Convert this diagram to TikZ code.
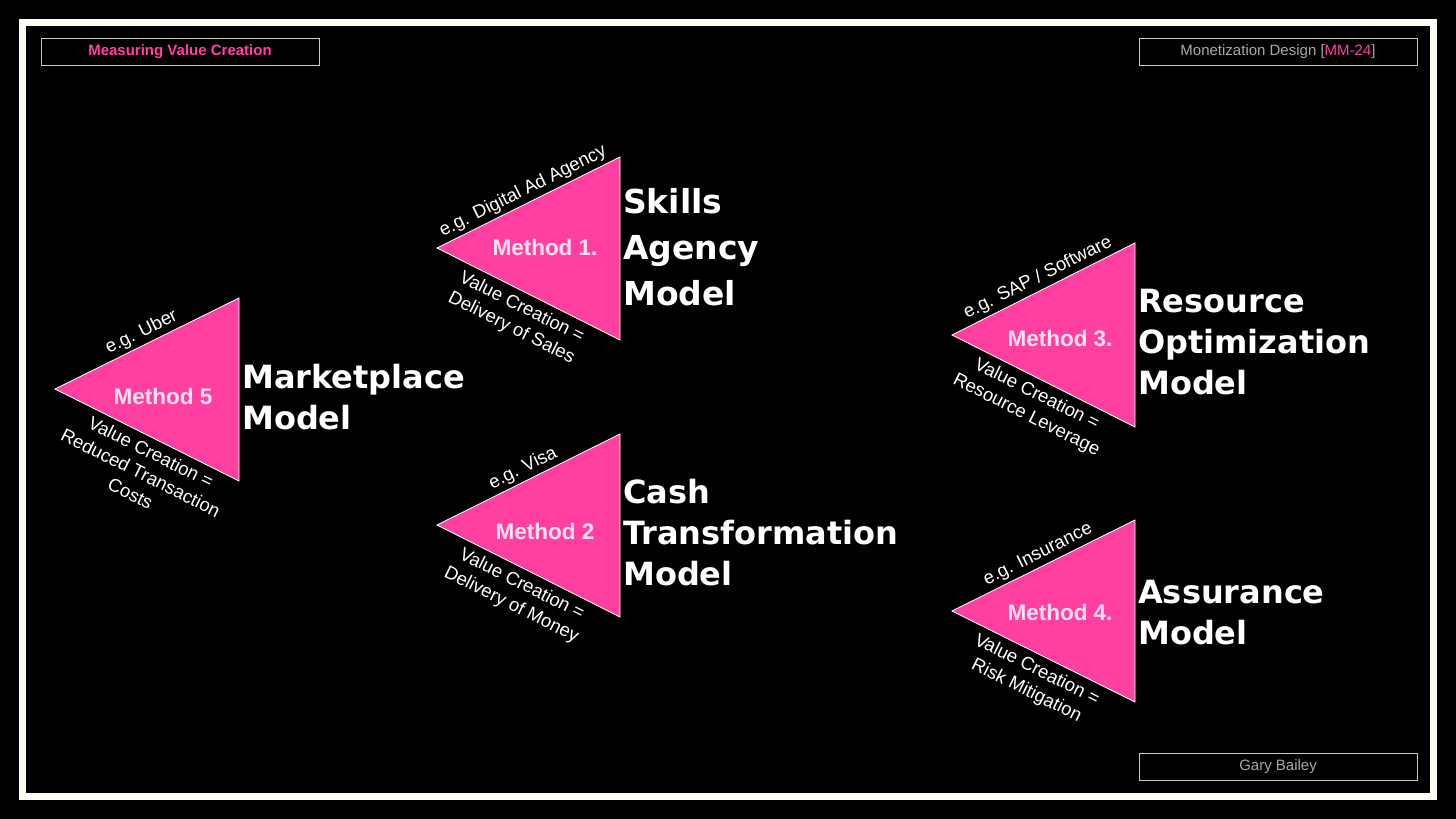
\documentclass[tikz,border=0pt]{standalone}
\usepackage{fontspec}
\setmainfont{Liberation Sans}
\newfontfamily\titlefont{DejaVu Sans}
\usetikzlibrary{positioning}

\definecolor{hotpink}{RGB}{255,64,160}
\definecolor{palepink}{RGB}{255,226,241}
\definecolor{framecream}{RGB}{255,253,242}
\definecolor{boxline}{RGB}{200,200,188}
\definecolor{labelgrey}{RGB}{168,168,168}

\begin{document}
\begin{tikzpicture}[x=1pt, y=-1pt,
		tri/.style={fill=hotpink, draw=white, line width=0.8pt, line join=miter},
		methodtxt/.style={text=palepink, font=\fontsize{22.5}{25}\selectfont\bfseries},
		eglabel/.style={sloped, above, inner sep=3.5pt, text=white, font=\fontsize{18.5}{22}\selectfont},
		vclabel/.style={sloped, below, inner sep=6.5pt, text=white, align=center, font=\fontsize{18.5}{23}\selectfont},
		modeltitle/.style={anchor=north west, inner sep=0pt, align=left, text=white, font=\titlefont\fontsize{32}{41}\selectfont\bfseries},
		tagbox/.style={draw=boxline, line width=0.9pt, minimum width=278pt, minimum height=27pt, inner sep=0pt}]
	% 1. 黑色底板与米白外框
	\fill[black] (0,0) rectangle (1456,819);
	\useasboundingbox (0,0) rectangle (1456,819);
	\draw[framecream, line width=7pt] (22.5,22.5) rectangle (1433,796);
	
	% 2. 页眉与页脚标签框
	\node[tagbox, text=hotpink, font=\fontsize{15}{18}\selectfont\bfseries] (topic) at (180,51.5) {Measuring Value Creation};
	\node[tagbox, text=labelgrey, font=\fontsize{15}{18}\selectfont] (course) at (1278,51.5) {Monetization Design [\textcolor{hotpink}{MM-24}]};
	\node[tagbox, text=labelgrey, font=\fontsize{15}{18}\selectfont] (author) at (1278,766.5) {Gary Bailey};
	
	% 3. Method 5 (左侧)
	\coordinate (m5tip) at (55,389);
	\coordinate (m5top) at (239,298);
	\coordinate (m5bot) at (239,481);
	\filldraw[tri] (m5tip) -- (m5top) -- (m5bot) -- cycle;
	\node[methodtxt] (m5) at (163,396) {Method 5};
	\path (m5tip) -- node[eglabel] (m5eg) {e.g. Uber} (m5top);
	\path (m5tip) -- node[vclabel, pos=0.555] (m5vc) {Value Creation =\\Reduced Transaction\\Costs} (m5bot);
	\node[modeltitle] (m5title) at (242,364) {Marketplace\\Model};
	
	% 4. Method 1 (中上)
	\coordinate (m1tip) at (437,248);
	\coordinate (m1top) at (620,157);
	\coordinate (m1bot) at (620,340);
	\filldraw[tri] (m1tip) -- (m1top) -- (m1bot) -- cycle;
	\node[methodtxt] (m1) at (545,247) {Method 1.};
	\path (m1tip) -- node[eglabel] (m1eg) {e.g. Digital Ad Agency} (m1top);
	\path (m1tip) -- node[vclabel] (m1vc) {Value Creation =\\Delivery of Sales} (m1bot);
	\node[modeltitle, font=\titlefont\fontsize{33}{46}\selectfont\bfseries] (m1title) at (623,188) {Skills\\Agency\\Model};
	
	% 5. Method 2 (中下)
	\coordinate (m2tip) at (437,525);
	\coordinate (m2top) at (620,434);
	\coordinate (m2bot) at (620,617);
	\filldraw[tri] (m2tip) -- (m2top) -- (m2bot) -- cycle;
	\node[methodtxt] (m2) at (545,531) {Method 2};
	\path (m2tip) -- node[eglabel] (m2eg) {e.g. Visa} (m2top);
	\path (m2tip) -- node[vclabel] (m2vc) {Value Creation =\\Delivery of Money} (m2bot);
	\node[modeltitle] (m2title) at (623,479) {Cash\\Transformation\\Model};
	
	% 6. Method 3 (右上)
	\coordinate (m3tip) at (952,335);
	\coordinate (m3top) at (1135,243);
	\coordinate (m3bot) at (1135,427);
	\filldraw[tri] (m3tip) -- (m3top) -- (m3bot) -- cycle;
	\node[methodtxt] (m3) at (1060,338) {Method 3.};
	\path (m3tip) -- node[eglabel] (m3eg) {e.g. SAP / Software} (m3top);
	\path (m3tip) -- node[vclabel] (m3vc) {Value Creation =\\Resource Leverage} (m3bot);
	\node[modeltitle] (m3title) at (1138,289) {Resource\\Optimization\\Model};
	
	% 7. Method 4 (右下)
	\coordinate (m4tip) at (952,611);
	\coordinate (m4top) at (1135,520);
	\coordinate (m4bot) at (1135,702);
	\filldraw[tri] (m4tip) -- (m4top) -- (m4bot) -- cycle;
	\node[methodtxt] (m4) at (1060,612) {Method 4.};
	\path (m4tip) -- node[eglabel] (m4eg) {e.g. Insurance} (m4top);
	\path (m4tip) -- node[vclabel] (m4vc) {Value Creation =\\Risk Mitigation} (m4bot);
	\node[modeltitle] (m4title) at (1138,580) {Assurance\\Model};
\end{tikzpicture}
\end{document}
